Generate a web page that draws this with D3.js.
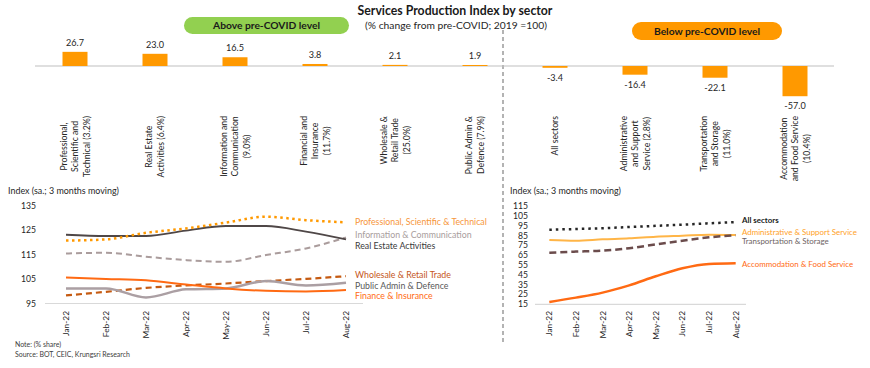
<!DOCTYPE html>
<html lang="en">
<head>
    <meta charset="UTF-8">
    <title>Services Production Index by sector</title>
    <script src="https://d3js.org/d3.v7.min.js"></script>
    <style>
        body { margin: 0; background: #fff; }
        svg { font-family: Lato, "Noto Sans", sans-serif; }
    </style>
</head>
<body>
<div id="chart"></div>
<script>
const width = 870;
const height = 368;

// top bar chart data
const sectorLabels = [
    "Professional,|Scientific and|Technical (3.2%)",
    "Real Estate|Activities (6.4%)",
    "Information and|Communication|(9.0%)",
    "Financial and|Insurance|(11.7%)",
    "Wholesale &|Retail Trade|(25.0%)",
    "Public Admin &|Defence (7.9%)",
    "All sectors",
    "Administrative|and Support|Service (2.8%)",
    "Transportation|and Storage|(11.0%)",
    "Accommodation|and Food Service|(10.4%)"
];
const changeValues = [26.7, 23.0, 16.5, 3.8, 2.1, 1.9, -3.4, -16.4, -22.1, -57.0];

// line charts data
const months = ["Jan-22", "Feb-22", "Mar-22", "Apr-22", "May-22", "Jun-22", "Jul-22", "Aug-22"];

const aboveNames = ["Professional, Scientific & Technical", "Information & Communication", "Real Estate Activities",
    "Wholesale & Retail Trade", "Public Admin  & Defence", "Finance & Insurance"];
const professional = [120.8, 121.3, 124.0, 125.8, 128.2, 130.6, 129.2, 128.3];
const information = [115.5, 115.8, 114.2, 112.8, 112.1, 114.9, 117.6, 122.1];
const realEstate = [123.2, 122.7, 122.7, 124.9, 126.8, 126.8, 124.5, 121.3];
const wholesale = [98.3, 99.8, 101.4, 102.4, 103.2, 104.2, 105.1, 106.2];
const publicAdmin = [101.2, 101.2, 97.5, 100.8, 101.2, 104.2, 102.4, 103.5];
const finance = [105.7, 105.1, 104.5, 102.8, 101.2, 100.2, 99.9, 100.5];
const aboveTicks = [95, 105, 115, 125, 135];

const belowNames = ["All sectors", "Administrative & Support Service", "Transportation & Storage", "Accommodation & Food Service"];
const allSectors = [90.9, 91.6, 92.4, 93.6, 94.8, 96.0, 97.4, 98.6];
const adminSupport = [80.4, 79.7, 81.1, 82.1, 83.8, 84.8, 85.8, 85.5];
const transport = [67.5, 68.6, 69.6, 72.0, 76.0, 79.7, 83.1, 85.2];
const accommodation = [17.4, 21.8, 26.9, 34.3, 43.5, 51.6, 56.0, 56.7];
const belowTicks = [15, 25, 35, 45, 55, 65, 75, 85, 95, 105, 115];

const svg = d3.select("#chart")
    .append("svg")
    .attr("width", width)
    .attr("height", height);

// the original uses a narrow font, so pick sizes that give the same text widths
function sizeFor(sample, targetW, bold) {
    const t = svg.append("text")
        .style("font-size", "10px")
        .style("font-weight", bold ? "bold" : null)
        .text(sample);
    const w = t.node().getComputedTextLength();
    t.remove();
    return (10 * targetW / w).toFixed(2) + "px";
}

const fs = {
    title: sizeFor("Services Production Index by sector", 195, true),
    subtitle: sizeFor("(% change from pre-COVID; 2019 =100)", 182),
    pill: sizeFor("Above pre-COVID level", 107, true),
    value: sizeFor("26.7", 18),
    cat: sizeFor("Technical (3.2%)", 61),
    index: sizeFor("Index (sa.; 3 months moving)", 111),
    tick: sizeFor("135", 15),
    month: sizeFor("Jan-22", 25),
    legendL: sizeFor("Professional, Scientific & Technical", 132),
    legendR: sizeFor("Administrative & Support Service", 115),
    note: sizeFor("Source:  BOT, CEIC, Krungsri Research", 115)
};

// title
svg.append("text")
    .attr("x", 455).attr("y", 15)
    .attr("text-anchor", "middle")
    .style("font-weight", "bold").style("font-size", fs.title).attr("fill", "#1a1a1a")
    .text("Services Production Index by sector");
svg.append("text")
    .attr("x", 456).attr("y", 29)
    .attr("text-anchor", "middle")
    .style("font-size", fs.subtitle).attr("fill", "#262626")
    .text("(% change from pre-COVID; 2019 =100)");

// pills
svg.append("rect").attr("x", 184).attr("y", 17).attr("width", 165).attr("height", 17)
    .attr("rx", 8.5).attr("fill", "#92d050");
svg.append("text").attr("x", 266.5).attr("y", 25.5).attr("dy", "0.35em").attr("text-anchor", "middle")
    .style("font-weight", "bold").style("font-size", fs.pill).attr("fill", "#1a1a1a")
    .text("Above pre-COVID level");
svg.append("rect").attr("x", 632).attr("y", 22).attr("width", 150).attr("height", 18)
    .attr("rx", 9).attr("fill", "#ff9900");
svg.append("text").attr("x", 707).attr("y", 31).attr("dy", "0.35em").attr("text-anchor", "middle")
    .style("font-weight", "bold").style("font-size", fs.pill).attr("fill", "#1a1a1a")
    .text("Below pre-COVID level");

// divider
svg.append("line")
    .attr("x1", 503).attr("x2", 503).attr("y1", 30).attr("y2", 342)
    .attr("stroke", "#9a9a9a").attr("stroke-width", 1.5).attr("stroke-dasharray", "4,3");

// ---- bar chart
const xBar = d3.scaleBand().domain(sectorLabels).range([35, 835]);
const yBar = d3.scaleLinear().domain([-60, 30]).range([97.8, 50.1]);
const barW = 25;

svg.append("line")
    .attr("x1", 35).attr("x2", 834)
    .attr("y1", yBar(0)).attr("y2", yBar(0))
    .attr("stroke", "#bfbfbf").attr("stroke-width", 1);

svg.selectAll(".bar")
    .data(changeValues)
    .join("rect")
    .attr("class", "bar")
    .attr("x", (d, i) => xBar(sectorLabels[i]) + xBar.bandwidth() / 2 - barW / 2)
    .attr("y", d => yBar(Math.max(0, d)))
    .attr("width", barW)
    .attr("height", d => Math.abs(yBar(d) - yBar(0)))
    .attr("fill", "#ff9900");

svg.selectAll(".barlabel")
    .data(changeValues)
    .join("text")
    .attr("class", "barlabel")
    .attr("x", (d, i) => xBar(sectorLabels[i]) + xBar.bandwidth() / 2)
    .attr("y", d => d >= 0 ? yBar(d) - 9 : yBar(d) + 10)
    .attr("dy", "0.35em")
    .attr("text-anchor", "middle")
    .style("font-size", fs.value).attr("fill", "#262626")
    .text(d => d.toFixed(1));

const catG = svg.selectAll(".cat")
    .data(sectorLabels)
    .join("g")
    .attr("class", "cat")
    .attr("transform", d => `translate(${xBar(d) + xBar.bandwidth() / 2},116) rotate(-90)`);

catG.each(function(d) {
    const g = d3.select(this);
    const lines = d.split("|");
    const n = lines.length;
    const t = g.selectAll("text")
        .data(lines)
        .join("text")
        .attr("y", (l, i) => (i - (n - 1) / 2) * 11.5)
        .attr("dy", "0.35em")
        .attr("text-anchor", "middle")
        .style("font-size", fs.cat).attr("fill", "#262626")
        .text(l => l);
    const maxW = d3.max(t.nodes(), nd => nd.getComputedTextLength());
    t.attr("x", -maxW / 2);
});

// ---- line charts
function lineChart(opts) {
    const x = d3.scalePoint().domain(months).range(opts.xRange).padding(0.5);
    const y = d3.scaleLinear().domain(opts.yDomain).range(opts.yRange);

    svg.append("text")
        .attr("x", opts.titleX).attr("y", 191)
        .attr("dy", "0.35em")
        .style("font-size", fs.index).attr("fill", "#262626")
        .text("Index (sa.; 3 months moving)");

    svg.append("line")
        .attr("x1", opts.xRange[0] - 1).attr("x2", opts.xRange[1] - 3)
        .attr("y1", y(opts.yDomain[0])).attr("y2", y(opts.yDomain[0]))
        .attr("stroke", "#d9d9d9").attr("stroke-width", 1.2);

    svg.selectAll(null)
        .data(opts.ticks)
        .join("text")
        .attr("x", opts.tickX).attr("y", d => y(d))
        .attr("dy", "0.35em")
        .attr("text-anchor", "end")
        .style("font-size", fs.tick).attr("fill", "#262626")
        .text(d => d);

    svg.selectAll(null)
        .data(months)
        .join("text")
        .attr("transform", d => `translate(${x(d)},311) rotate(-90)`)
        .attr("dy", "0.35em")
        .attr("text-anchor", "end")
        .style("font-size", fs.month).attr("fill", "#262626")
        .text(d => d);

    const line = d3.line()
        .x((d, i) => x(months[i]))
        .y(d => y(d))
        .curve(d3.curveMonotoneX);

    opts.series.forEach(s => {
        svg.append("path")
            .datum(s.values)
            .attr("d", line)
            .attr("fill", "none")
            .attr("stroke", s.color)
            .attr("stroke-width", s.width)
            .attr("stroke-dasharray", s.dash || null);
    });

    svg.selectAll(null)
        .data(opts.legend)
        .join("text")
        .attr("x", opts.legendX)
        .attr("y", d => d.y)
        .attr("dy", "0.35em")
        .style("font-size", opts.legendSize)
        .style("font-weight", d => d.bold ? "bold" : null)
        .attr("fill", d => d.color)
        .text(d => d.name);
}

lineChart({
    xRange: [46, 366],
    yDomain: [95, 135],
    yRange: [303.5, 206],
    ticks: aboveTicks,
    tickX: 36,
    titleX: 8,
    legendX: 355,
    legendSize: fs.legendL,
    series: [
        { values: information, color: "#aa9c9c", width: 2, dash: "6,4" },
        { values: wholesale, color: "#c55a11", width: 2.2, dash: "6,4" },
        { values: publicAdmin, color: "#ab9fa3", width: 2.5 },
        { values: finance, color: "#ff6a13", width: 2 },
        { values: realEstate, color: "#4f4747", width: 1.8 },
        { values: professional, color: "#ff9900", width: 2.5, dash: "2.5,3.5" }
    ],
    legend: [
        { name: aboveNames[0], y: 222, color: "#f7963a" },
        { name: aboveNames[1], y: 234.5, color: "#a89d9d" },
        { name: aboveNames[2], y: 246, color: "#3a3a3a" },
        { name: aboveNames[3], y: 274.5, color: "#c5561a" },
        { name: aboveNames[4], y: 285.5, color: "#595959" },
        { name: aboveNames[5], y: 296, color: "#ff6a13" }
    ]
});

lineChart({
    xRange: [536, 749],
    yDomain: [15, 115],
    yRange: [304.3, 206],
    ticks: belowTicks,
    tickX: 528,
    titleX: 510,
    legendX: 742,
    legendSize: fs.legendR,
    series: [
        { values: accommodation, color: "#ff6a13", width: 2.5 },
        { values: adminSupport, color: "#ffb547", width: 2 },
        { values: transport, color: "#6b4c4c", width: 2.5, dash: "7,4" },
        { values: allSectors, color: "#262626", width: 2.5, dash: "2.5,4" }
    ],
    legend: [
        { name: belowNames[0], y: 220, color: "#1a1a1a", bold: true },
        { name: belowNames[1], y: 232, color: "#ff9f1f" },
        { name: belowNames[2], y: 241.5, color: "#6d6363" },
        { name: belowNames[3], y: 264, color: "#ff6a13" }
    ]
});

// notes
svg.append("text").attr("x", 15).attr("y", 347)
    .style("font-size", fs.note).attr("fill", "#404040")
    .text("Note: (% share)");
svg.append("text").attr("x", 15).attr("y", 357)
    .style("font-size", fs.note).attr("fill", "#404040")
    .text("Source:  BOT, CEIC, Krungsri Research");
</script>
</body>
</html>
